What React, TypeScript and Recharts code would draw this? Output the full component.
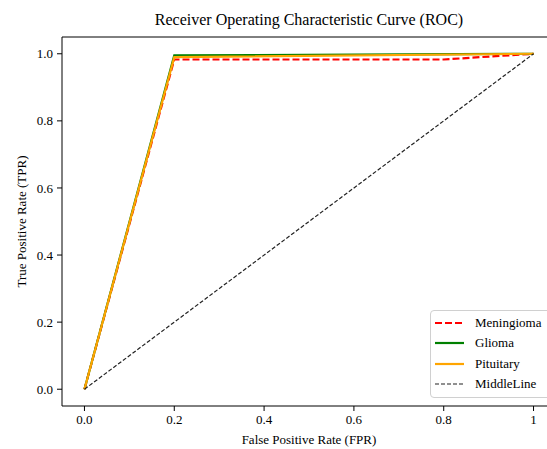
import React from 'react';
import { LineChart, Line, XAxis, YAxis, Legend, ReferenceLine } from 'recharts';

// ROC points
const meningioma = [
  { x: 0, y: 0 },
  { x: 0.2, y: 0.983 },
  { x: 0.8, y: 0.983 },
  { x: 1, y: 1 },
];
const glioma = [
  { x: 0, y: 0 },
  { x: 0.2, y: 0.995 },
  { x: 1, y: 1 },
];
const pituitary = [
  { x: 0, y: 0 },
  { x: 0.2, y: 0.99 },
  { x: 1, y: 1 },
];
const middleLine = [
  { x: 0, y: 0 },
  { x: 1, y: 1 },
];

const xTicks = [0, 0.2, 0.4, 0.6, 0.8, 1];
const yTicks = [0, 0.2, 0.4, 0.6, 0.8, 1];

const series = [
  { name: 'Meningioma', data: meningioma, color: '#ff0000', width: 2.2, dash: '7 3' },
  { name: 'Glioma', data: glioma, color: '#008000', width: 2.2, dash: undefined },
  { name: 'Pituitary', data: pituitary, color: '#ffa500', width: 2.2, dash: undefined },
  { name: 'MiddleLine', data: middleLine, color: '#222222', width: 1.2, dash: '4 2' },
];

const font = '"Liberation Serif", "Times New Roman", serif';

const LegendBox = () => (
  <div
    style={{
      border: '1px solid #d0d0d0',
      borderRadius: 4,
      background: 'rgba(255,255,255,0.85)',
      padding: '2px 0 3px 4px',
      width: 130,
      fontFamily: font,
      fontSize: 13,
      color: '#000',
    }}
  >
    {series.map((s) => (
      <div key={s.name} style={{ display: 'flex', alignItems: 'center', height: 20.3 }}>
        <svg width={30} height={6} style={{ marginRight: 10 }}>
          <line x1={0} y1={3} x2={29} y2={3} stroke={s.color} strokeWidth={s.width} strokeDasharray={s.dash} />
        </svg>
        <span>{s.name}</span>
      </div>
    ))}
  </div>
);

const App: React.FC = () => {
  const tickStyle = { fill: '#000', fontSize: 13, fontFamily: font };
  const textBlock = {
    position: 'absolute' as const,
    left: 0,
    width: 618,
    textAlign: 'center' as const,
    fontFamily: font,
    color: '#000',
  };
  return (
    <div
      style={{
        position: 'absolute',
        top: 0,
        left: 0,
        width: 547,
        height: 449,
        overflow: 'hidden',
        background: '#fff',
      }}
    >
      <div style={{ ...textBlock, top: 10, fontSize: 16, lineHeight: '20px' }}>
        Receiver Operating Characteristic Curve (ROC)
      </div>
      <div style={{ ...textBlock, top: 432, fontSize: 13, lineHeight: '16px', zIndex: 2 }}>
        False Positive Rate (FPR)
      </div>
      <LineChart width={570} height={449} margin={{ top: 37, right: 14, bottom: 0, left: 0 }}>
        <XAxis
          type="number"
          dataKey="x"
          domain={[-0.05, 1.05]}
          ticks={xTicks}
          allowDataOverflow
          height={43}
          tickSize={5}
          tickMargin={4}
          stroke="#000"
          tick={tickStyle}
          tickFormatter={(v: number) => (v === 1 ? '1' : v.toFixed(1))}
        />
        <YAxis
          type="number"
          dataKey="y"
          domain={[-0.05, 1.05]}
          ticks={yTicks}
          allowDataOverflow
          width={62}
          tickSize={5}
          tickMargin={4}
          stroke="#000"
          tick={tickStyle}
          tickFormatter={(v: number) => v.toFixed(1)}
          label={{
            value: 'True Positive Rate (TPR)',
            angle: -90,
            position: 'insideLeft',
            offset: 21,
            style: { fill: '#000', fontSize: 13, fontFamily: font, textAnchor: 'middle' },
          }}
        />
        <ReferenceLine y={1.05} stroke="#000" strokeWidth={1} />
        {series.map((s) => (
          <Line
            key={s.name}
            data={s.data}
            dataKey="y"
            name={s.name}
            type="linear"
            stroke={s.color}
            strokeWidth={s.width}
            strokeDasharray={s.dash}
            dot={false}
            activeDot={false}
            isAnimationActive={false}
          />
        ))}
        <Legend
          layout="vertical"
          align="center"
          verticalAlign="middle"
          content={() => <LegendBox />}
          wrapperStyle={{ left: 430, top: 310, width: 140 }}
        />
      </LineChart>
    </div>
  );
};

export default App;
